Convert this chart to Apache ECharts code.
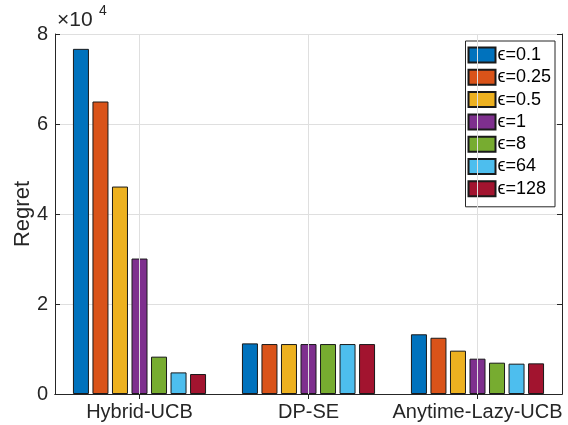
<!DOCTYPE html>
<html>
<head>
<meta charset="utf-8">
<script src="https://cdn.jsdelivr.net/npm/echarts@6/dist/echarts.min.js"></script>
<style>html,body{margin:0;padding:0;background:#fff}#c{width:568px;height:425px}</style>
</head>
<body>
<div id="c"></div>
<script>
const categories = ['Hybrid-UCB', 'DP-SE', 'Anytime-Lazy-UCB'];
const epsLabels = ['0.1', '0.25', '0.5', '1', '8', '64', '128'];
const eps0_1  = [76700, 11250, 13270];
const eps0_25 = [65000, 11100, 12500];
const eps0_5  = [46100, 11100, 9630];
const eps1    = [30100, 11100, 7850];
const eps8    = [8300, 11100, 6960];
const eps64   = [4800, 11100, 6740];
const eps128  = [4440, 11100, 6810];
const yTicks = [0, 20000, 40000, 60000, 80000];

const seriesValues = [eps0_1, eps0_25, eps0_5, eps1, eps8, eps64, eps128];
const colors = ['#0072BD', '#D95319', '#EDB120', '#7E2F8E', '#77AC30', '#4DBEEE', '#A2142F'];
const FONT = 'Liberation Sans, Arial, Helvetica, sans-serif';
const AX = '#262626';

const chart = echarts.init(document.getElementById('c'));
const names = epsLabels.map(e => 'ϵ=' + e);

const barSeries = seriesValues.map((vals, i) => ({
  name: names[i],
  type: 'bar',
  data: vals,
  barWidth: 16,
  barGap: '22%',
  itemStyle: { color: colors[i], borderColor: '#1a1a1a', borderWidth: 1 },
  z: 3
}));

const gridSeries = {
  name: 'grid',
  type: 'line',
  data: [],
  silent: true,
  z: 0,
  markLine: {
    silent: true,
    symbol: 'none',
    label: { show: false },
    lineStyle: { color: '#dfdfdf', type: 'solid', width: 1 },
    data: categories.map(c => ({ xAxis: c })),
    animation: false
  }
};

chart.setOption({
  animation: false,
  textStyle: { fontFamily: FONT, color: AX },
  grid: { left: 55, top: 34, width: 507, height: 360, containLabel: false },
  graphic: [
    { type: 'text', left: 57, top: 10, style: { text: '×10', fontSize: 21, fontFamily: FONT, fill: AX } },
    { type: 'text', left: 99, top: 4, style: { text: '4', fontSize: 14, fontFamily: FONT, fill: AX } }
  ],
  legend: {
    data: names,
    orient: 'vertical',
    right: 13,
    top: 41,
    icon: 'rect',
    itemWidth: 27,
    itemHeight: 15,
    itemGap: 4.3,
    padding: [5, 4, 9, 2],
    backgroundColor: '#fff',
    borderColor: AX,
    borderWidth: 1,
    borderRadius: 0,
    textStyle: { fontFamily: FONT, fontSize: 18, color: '#000', lineHeight: 18, padding: [0, 0, 0, -3] },
    selectedMode: false
  },
  xAxis: [
    {
      type: 'category',
      data: categories,
      position: 'bottom',
      axisLine: { show: true, lineStyle: { color: AX, width: 1 } },
      axisTick: { show: true, inside: true, alignWithLabel: true, length: 5, lineStyle: { color: AX } },
      axisLabel: { fontSize: 20, color: AX, margin: 8, fontFamily: FONT, interval: 0, hideOverlap: false },
      splitLine: { show: false }
    },
    {
      type: 'category',
      data: categories,
      position: 'top',
      axisLine: { show: true, lineStyle: { color: AX, width: 1 } },
      axisTick: { show: true, inside: true, alignWithLabel: true, length: 5, lineStyle: { color: AX } },
      axisLabel: { show: false },
      splitLine: { show: false }
    }
  ],
  yAxis: [
    {
      type: 'value',
      min: 0, max: 80000, interval: 20000,
      position: 'left',
      name: 'Regret',
      nameLocation: 'middle',
      nameGap: 21,
      nameMoveOverlap: false,
      nameRotate: 90,
      nameTextStyle: { fontSize: 22, color: AX, fontFamily: FONT },
      axisLine: { show: true, lineStyle: { color: AX, width: 1 } },
      axisTick: { show: true, inside: true, length: 5, lineStyle: { color: AX } },
      axisLabel: {
        fontSize: 20, color: AX, margin: 7, fontFamily: FONT,
        formatter: v => yTicks.includes(v) ? String(v / 10000) : ''
      },
      splitLine: { show: true, lineStyle: { color: '#dfdfdf', width: 1 } }
    },
    {
      type: 'value',
      min: 0, max: 80000, interval: 20000,
      position: 'right',
      axisLine: { show: true, lineStyle: { color: AX, width: 1 } },
      axisTick: { show: true, inside: true, length: 5, lineStyle: { color: AX } },
      axisLabel: { show: false },
      splitLine: { show: false }
    }
  ],
  series: [gridSeries].concat(barSeries)
});
</script>
</body>
</html>
